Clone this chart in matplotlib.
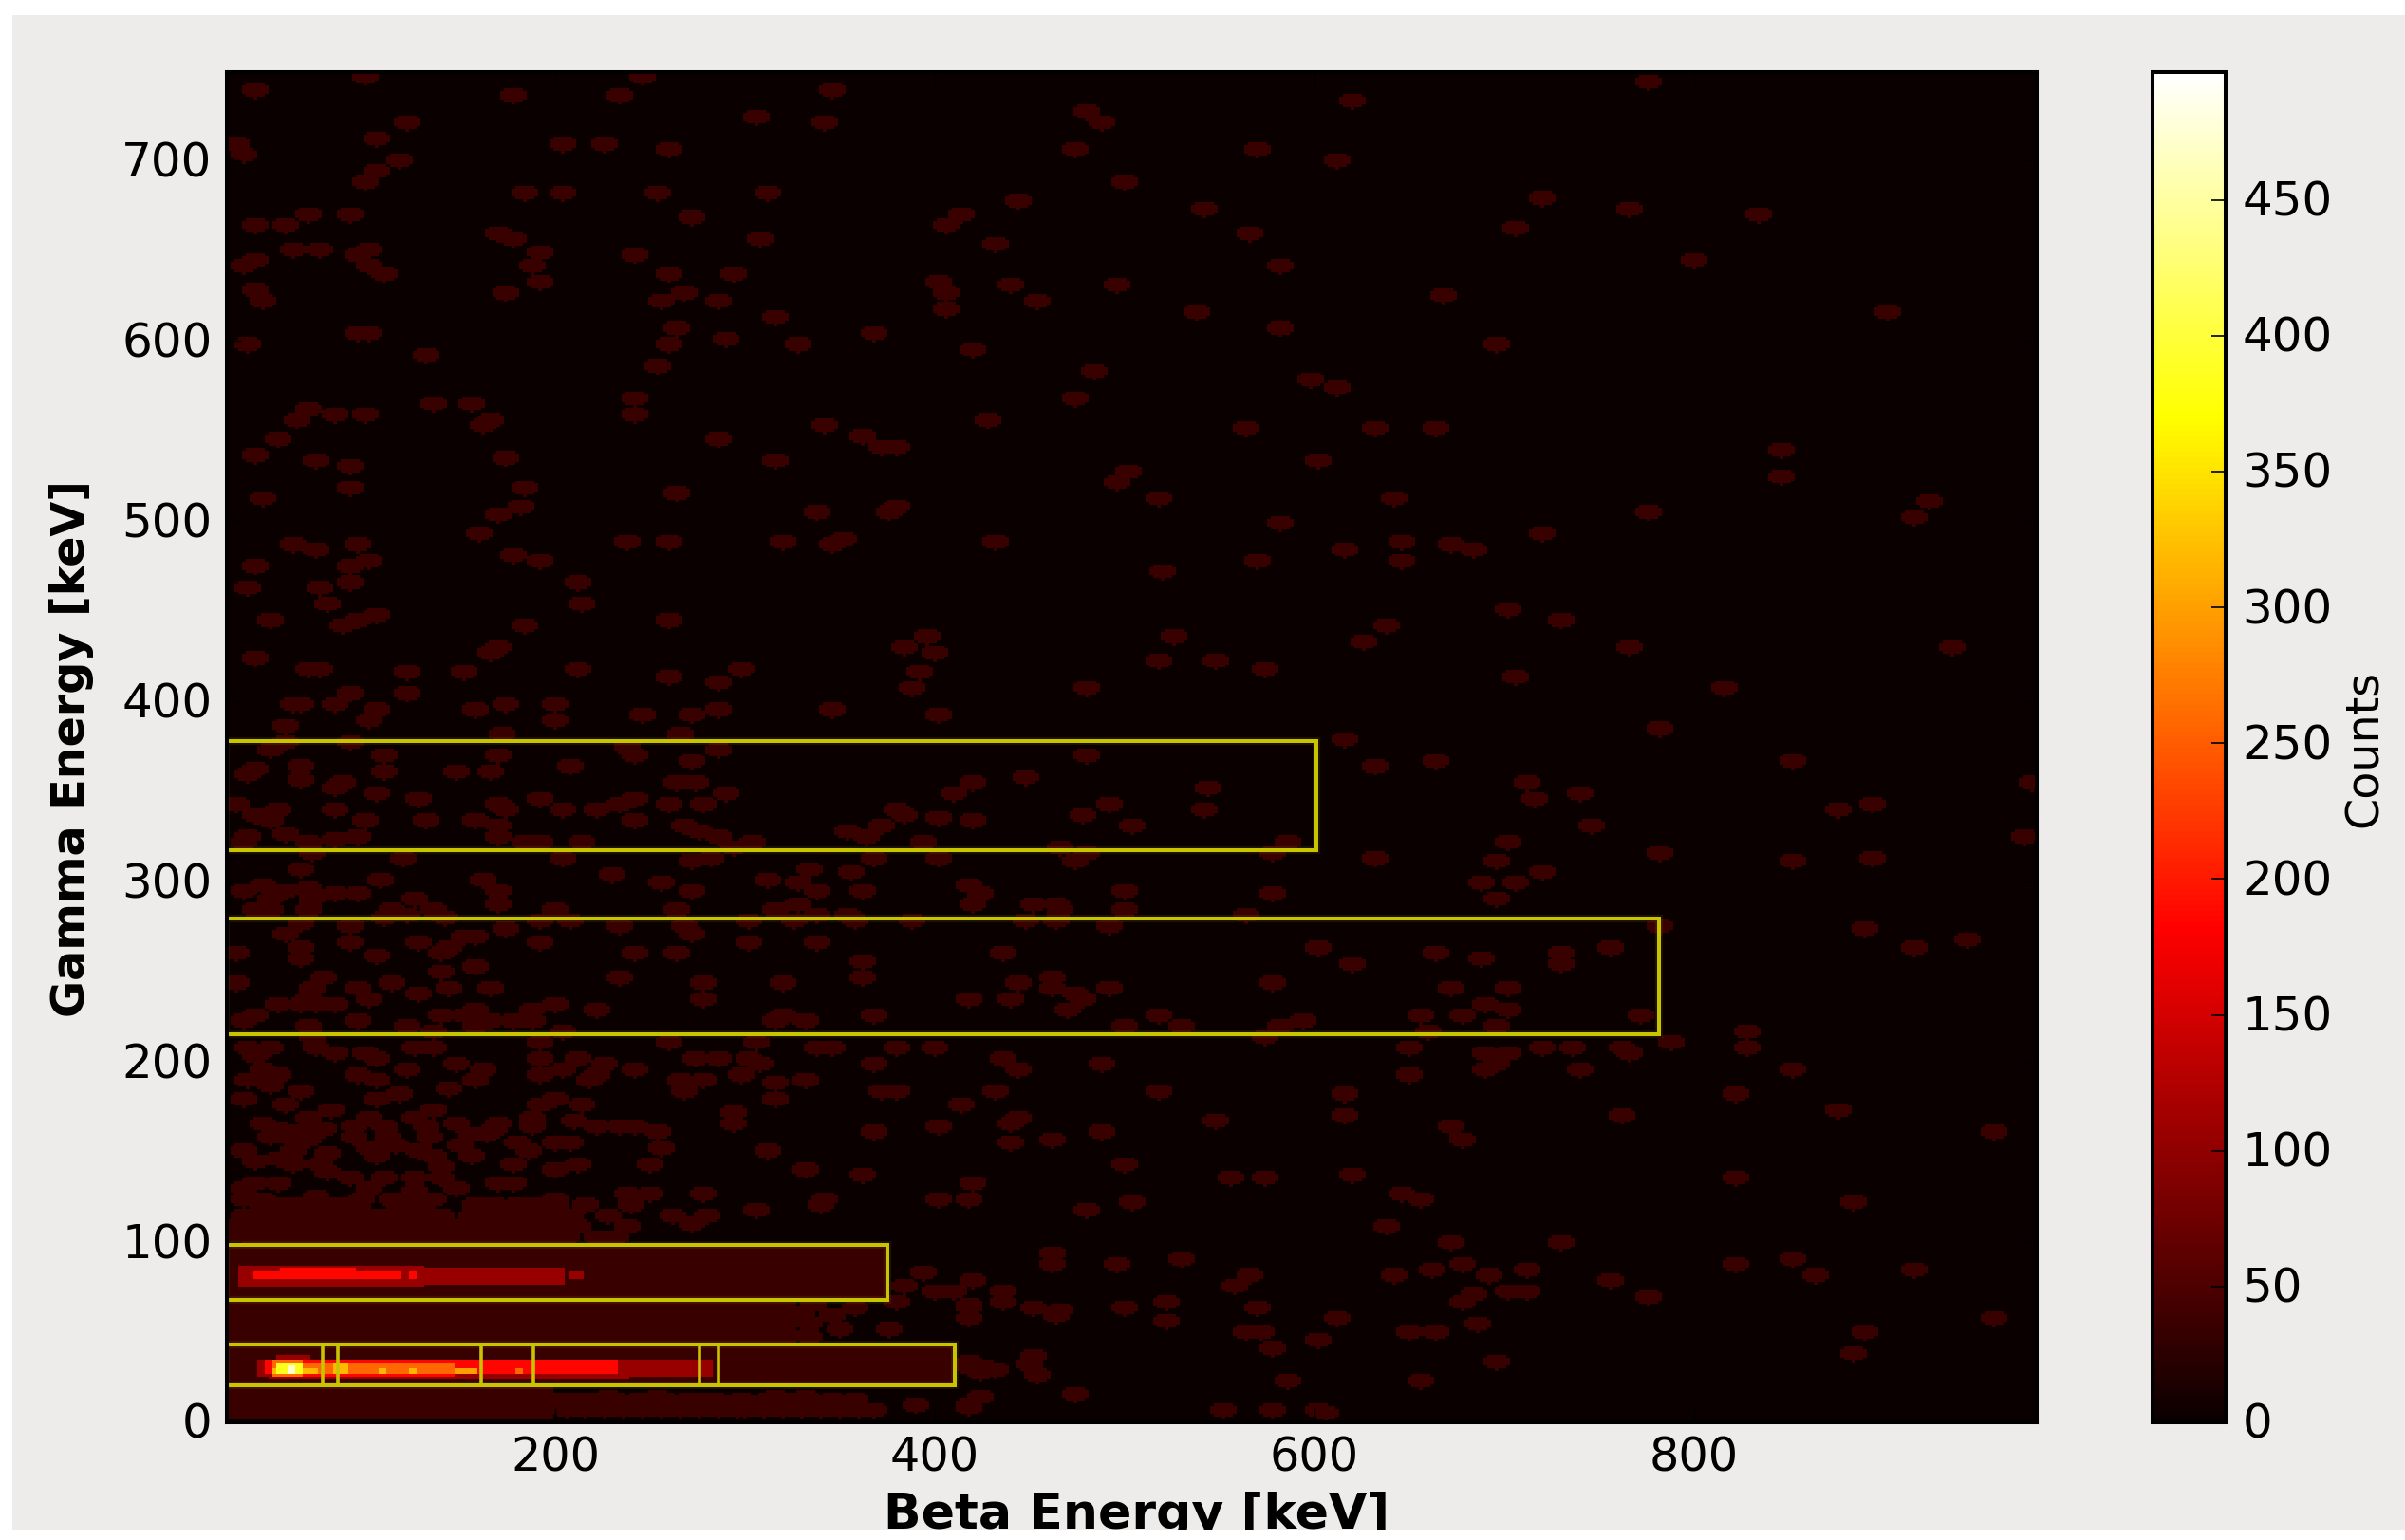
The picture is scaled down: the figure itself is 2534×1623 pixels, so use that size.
import numpy as np
import matplotlib
matplotlib.use("Agg")
import matplotlib.pyplot as plt
from matplotlib.patches import Rectangle
from matplotlib.transforms import ScaledTranslation

# --- data (beta keV, gamma keV) ---
isolated_upper = [
(99,747),(245,747),(42,739),(177,736),(233,736),(346,739),(121,722),(305,724),(342,721),(480,728),(488,722),
(32,710),(35,704),(106,712),(204,710),(226,710),(259,706),(473,706),(117,701),(106,695),(99,688),(184,683),
(204,683),(253,683),(312,683),(499,688),(443,678),(69,671),(91,671),(42,665),(58,665),(271,669),(413,671),
(405,665),(170,660),(177,657),(308,657),(432,654),(61,651),(76,651),(95,648),(102,651),(192,649),(188,642),
(241,648),(42,645),(35,642),(102,642),(110,638),(259,638),(294,638),(402,633),(405,627),(405,618),(42,628),
(46,622),(192,633),(173,627),(267,627),(439,631),(496,631),(255,622),(286,622),(454,622),(316,613),(263,607),
(95,604),(102,604),(368,604),(38,598),(259,598),(290,601),(327,598),(420,595),(132,593),(253,587),(484,584),
(241,569),(241,560),(473,568),(69,563),(63,557),(83,560),(99,560),(136,566),(155,566),(166,557),(162,554),
(342,554),(427,557),(361,548),(286,546),(54,546),(372,542),(380,542),(42,537),(173,536),(73,534),(91,531),
(316,534),(502,528),(496,522),(91,519),(184,519),(46,513),(263,516),(517,513),(181,508),(170,504),(338,505),
(380,508),(376,505),(159,494),(61,487),(95,487),(73,484),(237,489),(259,489),(319,489),(346,487),(351,490),
(432,489),(177,481),(102,478),(192,478),(42,475),(91,475),(520,472),(211,466),(91,466),(38,463),(76,463),
(214,455),(79,454),(50,446),(106,449),(95,446),(87,443),(184,443),(259,446),(395,437),(383,431),(399,428),
(170,431),(166,428),(42,425),(69,419),(76,419),(121,417),(151,417),(211,419),(297,419),(391,417),(518,423),
(259,414),(286,411),(91,405),(121,405),(387,408),(480,408),(61,399),(66,399),(83,399),(173,399),(200,399),
(158,396),(106,396),(245,393),(271,393),(286,396),(346,396),(402,393),(102,390),(200,390),(58,387),
(776,744),(619,733),(570,706),(612,701),(720,680),(765,674),(833,671),(541,674),(705,663),(566,660),(581,642),
(799,645),(667,625),(537,616),(902,616),(581,607),(696,599),(597,579),(612,574),(563,552),(632,552),(664,552),
(845,540),(602,534),(845,525),(642,513),(923,511),(776,506),(916,502),(581,499),(720,494),(646,489),(671,487),
(683,484),(615,484),(570,478),(646,478),(701,451),(730,446),(638,443),(525,437),(626,434),(765,431),(935,431),
(548,423),(574,419),(705,414),(816,408),(782,386),
]
isolated_middle = [
(172,382),(266,382),(58,378),(91,378),(50,373),(109,370),(170,370),(237,375),(241,370),(286,373),(480,370),
(42,363),(38,360),(65,365),(65,357),(109,361),(147,361),(166,361),(207,365),(271,367),(447,358),(87,356),
(84,353),(263,355),(274,355),(420,355),(106,349),(290,349),(409,349),(32,344),(128,346),(192,346),(241,346),
(169,344),(174,340),(233,343),(259,344),(278,344),(492,344),(54,341),(83,341),(42,337),(50,335),(204,340),
(222,340),(379,341),(383,337),(402,336),(477,337),(99,334),(132,334),(158,334),(241,334),(420,334),(170,332),
(372,332),(267,332),(503,332),(275,328),(354,328),(170,326),(58,327),(38,326),(95,326),(83,324),(286,326),
(364,326),(69,323),(35,323),(184,323),(192,323),(214,323),(304,323),(394,323),(294,320),(466,320),(72,317),
(480,317),(119,313),(204,314),(271,312),(282,314),(368,314),(402,314),(473,312),(65,308),(334,308),(355,306),
(229,305),(162,302),(108,302),(312,302),(255,300),(328,300),(418,299),(35,296),(46,298),(58,296),(69,297),
(170,296),(271,296),(338,296),(361,296),(499,296),(424,294),(72,291),(83,294),(95,294),(50,291),(125,291),
(170,288),(327,288),(420,288),(451,288),(463,288),(42,285),(50,285),(69,285),(113,285),(136,285),(200,285),
(263,285),(316,285),(466,285),(499,285),(121,282),(338,282),(354,282),(142,281),(110,281),(192,279),(207,279),
(301,279),(326,279),(357,279),(387,279),(447,279),(463,279),(65,277),(91,276),(173,275),(233,276),(267,276),
(492,276),(58,271),(271,271),(91,267),(128,267),(151,270),(158,270),(192,267),(301,267),(338,267),(65,264),
(143,264),(31,261),(139,261),(241,261),(263,261),(435,261),(65,258),(106,259),(361,256),(158,253),(140,250),
(77,247),(233,247),(361,247),(462,248),(31,244),(113,244),(278,244),(319,244),(444,244),(72,241),(95,241),
(144,241),(166,241),(462,241),(492,241),(473,238),(128,238),(69,236),(102,235),(278,235),(417,235),(439,235),
(477,235),(54,232),(66,232),(73,232),(83,232),(200,232),(222,229),(469,229),(158,229),(188,229),(42,226),
(140,226),(151,226),(320,227),(368,227),(517,227),(35,223),(95,223),(166,223),(177,223),(188,223),(316,223),
(331,223),(121,221),(69,220),(158,221),(499,221),(136,218),(204,218),(72,214),
(615,379),(632,364),(664,367),(851,367),(711,355),(739,349),(716,346),(977,355),(544,352),(542,340),(894,344),
(875,340),(746,332),(701,323),(586,323),(578,317),(973,326),(632,314),(782,317),(695,312),(851,312),(894,314),
(720,306),(687,300),(705,300),(696,291),(578,294),(563,282),(782,276),(889,274),(916,264),(944,268),(602,264),
(756,264),(664,261),(687,258),(730,261),(730,255),(619,255),(578,244),(671,241),(701,241),(690,232),(701,229),
(593,224),(655,226),(677,226),(771,226),(696,221),(581,221),(529,220),(660,217),(574,215),(827,218),
]
isolated_lower = [
(192,212),(259,211),(305,211),(38,209),(50,209),(73,209),(125,209),(136,209),(338,209),(346,209),(379,209),
(399,209),(42,204),(83,206),(99,206),(106,202),(192,203),(211,203),(274,202),(286,202),(301,202),(308,200),
(435,202),(147,200),(368,200),(488,200),(46,197),(162,197),(121,197),(204,197),(226,200),(222,194),(241,197),
(444,197),(95,194),(192,194),(297,194),(54,194),(38,191),(106,191),(158,191),(331,191),(218,190),(265,191),
(278,190),(316,189),(50,188),(65,185),(144,186),(267,185),(372,185),(380,185),(432,185),(517,185),(117,183),
(35,180),(106,180),(316,180),(199,180),(191,177),(58,177),(81,174),(214,177),(413,177),(136,174),(293,173),
(188,170),(125,170),(444,170),(293,167),(439,167),(209,168),(222,165),(233,165),(241,165),(188,165),(402,165),
(253,162),(368,162),(488,162),
(45,167),(54,164),(70,169),(64,162),(77,164),(50,159),(61,157),(70,157),(62,152),(102,170),(94,165),(110,165),
(94,159),(112,159),(102,153),(115,155),(148,167),(155,161),(163,160),(150,155),(156,149),(169,167),(168,164),
(131,165),(134,159),(128,152),(136,148),(140,142),(140,136),(180,156),(185,152),(200,156),(207,156),(255,153),
(312,151),(462,158),(439,156),(35,151),(42,146),(54,147),(61,144),(75,144),(80,150),(80,139),(106,148),(177,144),
(200,141),(211,144),(249,144),(331,141),(361,138),(499,144),(91,136),(110,137),(125,136),(170,133),(177,133),
(420,133),(54,133),(42,133),(35,130),(126,129),(102,130),(147,130),(73,126),(46,125),(35,124),(97,125),(113,125),
(125,125),(136,124),(200,125),(238,127),(250,127),(278,127),(341,124),(402,124),(417,125),(215,121),(240,122),
(305,118),(340,122),(261,115),(271,111),(279,115),(227,115),(237,109),(211,109),
(227,15),(253,15),(279,13),(316,15),(331,15),(357,13),(389,11),(418,9),(424,15),(334,55),(350,53),(357,64),(375,53),
(334,48),(418,34),(425,31),(394,84),(384,76),(380,67),(399,74),(410,74),(420,80),(418,64),
(827,209),(788,212),(650,209),(720,209),(735,209),(761,209),(765,206),(690,206),(701,206),(696,200),(690,197),
(650,194),(739,197),(851,197),(615,183),(821,183),(875,174),(615,171),(761,171),(548,168),(671,165),(958,162),
(677,157),(556,136),(574,136),(619,138),(821,136),(646,127),(655,125),(883,123),(503,123),(480,118),(638,109),
(671,100),(730,100),(462,94),(462,88),(529,92),(496,88),(851,92),(821,88),(677,89),(661,85),(711,85),(642,83),
(916,85),(566,83),(691,83),(864,83),(420,79),(756,79),(557,77),(410,73),(436,73),(702,73),(711,73),(683,72),(677,68),
(776,71),(436,68),(521,68),(451,65),(500,65),(570,65),(417,66),(417,59),(463,60),(466,63),(612,59),(521,57),(686,56),
(958,59),(563,51),(571,51),(602,47),(649,51),(664,51),(889,51),(578,42),(883,39),(696,34),(451,38),(449,33),(418,32),
(431,30),(424,29),(454,27),(585,24),(655,24),(473,17),(424,15),(417,10),(552,7),(578,7),(602,7),(605,6),
]
crowded_above_80kev = [
(45,121),(52,121),(60,121),(68,121),(78,121),(88,121),(96,121),(118,121),(128,121),(158,121),(168,121),(180,121),(190,121),(200,121),
(36,115),(44,115),(52,115),(60,115),(70,115),(78,115),(86,115),(96,115),(104,115),(112,115),(120,115),(130,115),(140,115),(155,115),(165,115),(175,115),(185,115),(198,115),(208,115),
(30,109),(40,109),(50,109),(58,109),(66,109),(74,109),(84,109),(92,109),(100,109),(110,109),(118,109),(126,109),(134,109),(146,109),(160,109),(170,109),(180,109),(190,109),(200,109),(212,109),
(28,103),(36,103),(46,103),(54,103),(62,103),(72,103),(82,103),(90,103),(100,103),(108,103),(116,103),(124,103),(132,103),(140,103),(150,103),(158,103),(166,103),(176,103),(186,103),(196,103),(206,103),(222,103),(232,103),
]
crowded_below_30kev = [
(203,13),(212,13),(222,13),(232,13),(244,13),(258,13),(270,13),(284,13),(298,13),(312,13),(322,13),(334,13),(346,13),(358,13),
(205,7),(215,7),(225,7),(235,7),(245,7),(255,7),(265,7),(275,7),(285,7),(295,7),(300,7),(310,7),(320,7),(330,7),(340,7),(350,7),(360,7),(368,7),
(330,62),(335,66),(322,50),(345,60),
]
isolated_counts = 35
gamma_reading_offset = -1.0   # my gamma read-offs sit about 1 keV high against the ticks

# (beta start, beta end, gamma start, gamma end, counts)
background_patches = [
(26.5,376,68.7,99.5,35),(26.5,326,44,69,35),(26.5,411,21.6,44.3,35),(28,200,3,21.6,35),
]
peak_80kev = [
(33,131,76,88,105),(131,205,77,87,105),(207,214,81,85,105),
(41,118,80,85,185),(55,95,85,87,185),(123,127,81,85,185),
]
peak_30kev = [
(49,240,25,35,105),(42,283,26,35,105),(53,72,35,39,105),
(46,233,28,35.5,185),(51,146,26,28,185),
(50,146,28,34,260),(146,160,28,31.5,260),(179.6,182,28,31.5,260),(51,67,26,36,260),
(50,76,28,31.5,320),(83,92,28,34,320),(108,111,28,31.5,320),(123.4,127,28,31.5,320),(146,160,28,31.5,300),
(53,67,28,34,385),(59,63,28,32,470),
]
# gate boxes: (beta start, beta end, gamma start, gamma end)
gates = [(26.5,601,318.3,378.8),(26.5,781.5,216.4,280.5),(26.5,375,68.7,99.2),(26.5,410.5,21.6,44.2)]
gate_dividers = [77.4,85.5,161,188.5,275.9,286]
x_ticks = [200,400,600,800]
y_ticks = [0,100,200,300,400,500,600,700]
cbar_ticks = [0,50,100,150,200,250,300,350,400,450]
vmax_counts = 497

# --- histogram grid ---
xlim = (27.0, 980.5); ylim = (0.0, 749.0)
bx, by = 2.0, 1.5
nx = int(round((xlim[1]-xlim[0])/bx)); ny = int(round((ylim[1]-ylim[0])/by))
extent = [xlim[0], xlim[0]+nx*bx, ylim[0], ylim[0]+ny*by]
H = np.zeros((ny, nx))
stamp = np.array([[0,0,0,1,0,0,0],
                  [0,1,1,1,1,1,0],
                  [1,1,1,1,1,1,1],
                  [1,1,1,1,1,1,1],
                  [1,1,1,1,1,1,1],
                  [0,1,1,1,1,1,0]], bool)
sy, sx = np.nonzero(stamp)
sy = sy-3; sx = sx-3
for (b, g) in isolated_upper+isolated_middle+isolated_lower+crowded_above_80kev+crowded_below_30kev:
    ci = int((b-xlim[0])/bx); cj = int((g+gamma_reading_offset-ylim[0])/by)
    ii = ci+sx; jj = cj+sy
    ok = (ii>=0)&(ii<nx)&(jj>=0)&(jj<ny)
    H[jj[ok], ii[ok]] = np.maximum(H[jj[ok], ii[ok]], isolated_counts)
for (x0,x1,y0,y1,v) in background_patches+peak_80kev+peak_30kev:
    y0 += gamma_reading_offset; y1 += gamma_reading_offset
    i0 = max(int(round((x0-xlim[0])/bx)),0); i1 = max(int(round((x1-xlim[0])/bx)),i0+1)
    j0 = max(int(round((y0-ylim[0])/by)),0); j1 = max(int(round((y1-ylim[0])/by)),j0+1)
    H[j0:j1, i0:i1] = np.maximum(H[j0:j1, i0:i1], v)

# --- figure ---
W, H_px = 2534, 1624
fig = plt.figure(figsize=(W/100, H_px/100), dpi=100, facecolor='white')
GREY = '#edecea'
fig.add_artist(Rectangle((13/W, (H_px-1613)/H_px), (W-13)/W, (1613-17)/H_px, transform=fig.transFigure,
                         facecolor=GREY, edgecolor='none', zorder=-5))
ax = fig.add_axes([239/W, (H_px-1500)/H_px, 1907/W, 1423/H_px])
im = ax.imshow(H, origin='lower', extent=extent, cmap='hot', vmin=0, vmax=vmax_counts,
               aspect='auto', interpolation='nearest')
for (x0,x1,y0,y1) in gates:
    y0 += gamma_reading_offset; y1 += gamma_reading_offset
    ax.add_patch(Rectangle((x0,y0), x1-x0, y1-y0, fill=False, edgecolor='#c8c400', linewidth=6, alpha=0.09, zorder=2))
    ax.add_patch(Rectangle((x0,y0), x1-x0, y1-y0, fill=False, edgecolor='#c8c400', linewidth=2.9, zorder=2.1))
d = gates[3]
ax.vlines(gate_dividers, d[2]+gamma_reading_offset, d[3]+gamma_reading_offset, color='#c8c400', linewidth=2.6, zorder=2.1)
ax.set_xlim(*xlim); ax.set_ylim(*ylim)
ax.set_xticks(x_ticks); ax.set_yticks(y_ticks)
ax.tick_params(axis='x', labelsize=35.5, direction='in', length=11, width=1, pad=9, top=True)
ax.tick_params(axis='y', labelsize=36, direction='in', length=11, width=1, pad=11, right=True)
for s in ax.spines.values():
    s.set_linewidth(2.9); s.set_color('black')
ax.set_xlabel('Beta Energy [keV]', fontsize=37.5, fontweight='bold')
ax.xaxis.set_label_coords(0.5+5/1907, (1500-1572)/1423)
ax.xaxis.label.set_va('top')
ax.set_ylabel('Gamma Energy [keV]', fontsize=34.3, fontweight='bold', va='center')
ax.yaxis.set_label_coords((76-239)/1907, 0.5)

cax = fig.add_axes([2267.5/W, (H_px-1500)/H_px, 77.5/W, 1423/H_px])
cb = fig.colorbar(im, cax=cax, ticks=cbar_ticks)
cb.outline.set_linewidth(2.9); cb.outline.set_edgecolor('black')
cax.tick_params(axis='y', labelsize=36, direction='in', length=11, width=1.2, pad=12.5, color='black')
cax.set_ylabel('Counts', fontsize=34.3)
cax.yaxis.set_label_coords((2491-2267.5)/77.5, 0.5)
cax.yaxis.label.set_va('center')

# y tick labels sit a little above their ticks in the reference
up = ScaledTranslation(0, 3/100, fig.dpi_scale_trans)
for lab in ax.get_yticklabels()+cax.get_yticklabels():
    lab.set_transform(lab.get_transform()+up)

# the reference's grey panel cuts the x label off at its lower edge
fig.add_artist(Rectangle((0,0), 1, (H_px-1613)/H_px, transform=fig.transFigure, facecolor='white', edgecolor='none', zorder=10))
fig.savefig('out.png', dpi=100, facecolor='white')
